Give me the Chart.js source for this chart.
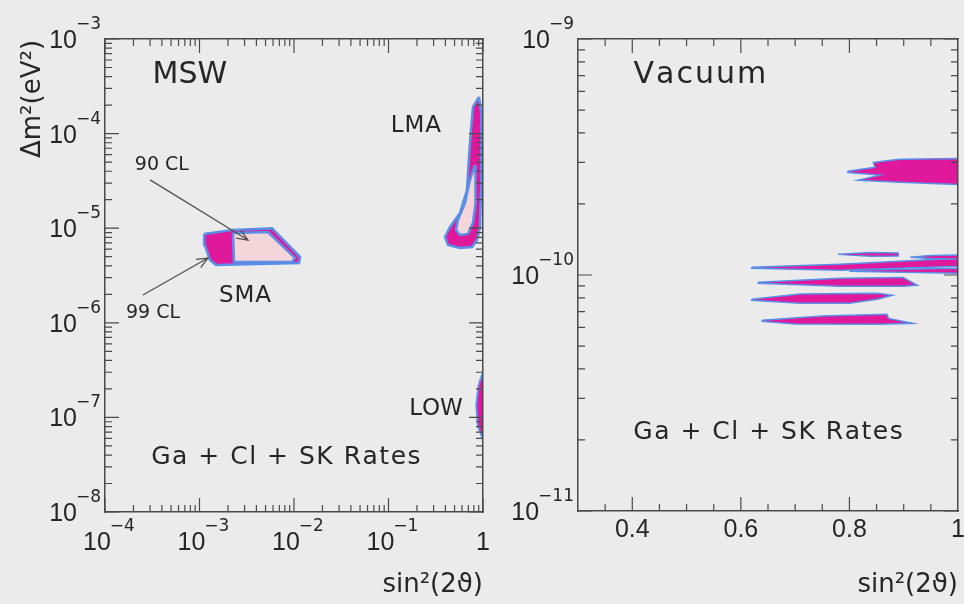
<!DOCTYPE html>
<html>
<head>
<meta charset="utf-8">
<script src="https://cdn.jsdelivr.net/npm/chart.js@4.4.1/dist/chart.umd.min.js"></script>
<style>
  html, body { margin: 0; padding: 0; background: #ebebeb; }
  #wrap { position: relative; width: 964px; height: 604px; overflow: hidden; }
  canvas { position: absolute; top: 0; }
  #msw { left: 0; width: 490px; height: 604px; }
  #vac { left: 490px; width: 474px; height: 604px; }
</style>
</head>
<body>
<div id="wrap">
  <canvas id="msw" width="490" height="604"></canvas>
  <canvas id="vac" width="474" height="604"></canvas>
</div>
<script>
// ---- MSW solutions: closed contours, [sin^2(2θ), Δm^2 in eV^2] ----
const SMA_99 = [[1.12e-3,8.7e-6],[2.26e-3,9.6e-6],[5.85e-3,1.0e-5],[1.16e-2,4.97e-6],[1.13e-2,4.29e-6],
                [1.50e-3,4.08e-6],[1.29e-3,4.61e-6],[1.14e-3,6.64e-6],[1.12e-3,8.7e-6]];
const SMA_90 = [[2.26e-3,8.9e-6],[5.31e-3,9.1e-6],[1.03e-2,4.84e-6],[9.5e-3,4.39e-6],[2.32e-3,4.39e-6],[2.26e-3,8.9e-6]];
const LMA_99 = [[0.907,2.44e-4],[0.784,1.91e-4],[0.746,1.09e-4],[0.711,5.66e-5],[0.677,2.53e-5],[0.571,1.45e-5],
                [0.448,1.03e-5],[0.396,8.07e-6],[0.427,6.64e-6],[0.571,6.17e-6],[0.765,6.33e-6],[0.864,7.5e-6],
                [0.930,1.03e-5],[0.96,3.24e-5],[0.96,1.65e-4],[0.907,2.44e-4]];
const LMA_90 = [[0.823,4.66e-5],[0.728,3.24e-5],[0.645,1.85e-5],[0.543,1.22e-5],[0.518,9.57e-6],[0.571,8.48e-6],
                [0.693,8.69e-6],[0.784,1.14e-5],[0.843,1.99e-5],[0.843,3.47e-5],[0.823,4.66e-5]];
const LOW_99 = [[1.0,3.0e-7],[0.90,2.2e-7],[0.85,1.35e-7],[0.88,8.3e-8],[1.0,5.8e-8],[1.0,3.0e-7]];

// ---- Vacuum solutions: thin islands, [sin^2(2θ), Δm^2 in eV^2] ----
const VAC_1 = [[0.797,2.75e-10],[0.847,2.86e-10],[0.844,3.0e-10],[0.893,3.09e-10],[1.0,3.12e-10],[1.0,2.42e-10],
               [0.893,2.47e-10],[0.816,2.52e-10],[0.856,2.65e-10],[0.797,2.72e-10],[0.797,2.75e-10]];
const VAC_2 = [[0.779,1.224e-10],[0.838,1.245e-10],[0.890,1.24e-10],[0.890,1.205e-10],[0.838,1.20e-10],[0.779,1.224e-10]];
const VAC_3 = [[0.912,1.19e-10],[0.95,1.21e-10],[1.0,1.215e-10],[1.0,1.17e-10],[0.95,1.175e-10],[0.912,1.19e-10]];
const VAC_4 = [[0.620,1.078e-10],[0.783,1.11e-10],[1.0,1.177e-10],[1.0,1.089e-10],[0.783,1.047e-10],[0.620,1.068e-10],[0.620,1.078e-10]];
const VAC_5 = [[0.801,1.047e-10],[1.0,1.068e-10],[1.0,1.017e-10],[0.801,1.036e-10],[0.801,1.047e-10]];
const VAC_6 = [[0.632,9.31e-11],[0.783,9.68e-11],[0.899,9.77e-11],[0.925,9.05e-11],[0.899,8.96e-11],[0.783,8.96e-11],[0.632,9.22e-11],[0.632,9.31e-11]];
const VAC_7 = [[0.620,7.89e-11],[0.709,8.30e-11],[0.851,8.36e-11],[0.879,8.20e-11],[0.851,7.9e-11],[0.80,7.59e-11],[0.709,7.59e-11],[0.620,7.82e-11],[0.620,7.89e-11]];
const VAC_8 = [[0.639,6.43e-11],[0.75,6.7e-11],[0.869,6.82e-11],[0.872,6.55e-11],[0.917,6.24e-11],[0.85,6.18e-11],[0.70,6.2e-11],[0.639,6.36e-11],[0.639,6.43e-11]];

// ---- axes ----
const MSW_X_TICKS = [1e-4, 1e-3, 1e-2, 1e-1, 1];
const MSW_X_LABELS = ['10^-4', '10^-3', '10^-2', '10^-1', '1'];
const MSW_Y_TICKS = [1e-8, 1e-7, 1e-6, 1e-5, 1e-4, 1e-3];
const MSW_Y_LABELS = ['10^-8', '10^-7', '10^-6', '10^-5', '10^-4', '10^-3'];
const VAC_X_TICKS = [0.4, 0.6, 0.8, 1.0];
const VAC_X_LABELS = ['0.4', '0.6', '0.8', '1'];
const VAC_Y_TICKS = [1e-11, 1e-10, 1e-9];
const VAC_Y_LABELS = ['10^-11', '10^-10', '10^-9'];

const X_TITLE = 'sin\u00b2(2\u03d1)';
const Y_TITLE = '\u0394m\u00b2(eV\u00b2)';

// ---- styling ----
const MAGENTA = '#e0189c';
const PALE = '#f3d5da';
const BLUE = '#5b8ee6';
const AXIS = '#4a4a4a';
const INK = '#262626';
const WORD_FONT = '"DejaVu Sans", sans-serif';
const NUM_FONT = '"Liberation Sans", Arial, sans-serif';

// annotations placed in data coordinates
const MSW_NOTES = [
  { t: 'MSW', x: 7.9e-4, y: 4.16e-4, size: 30 },
  { t: 'LMA', x: 0.195, y: 1.2e-4, size: 23, sp: 1 },
  { t: '90 CL', x: 4.0e-4, y: 4.65e-5, size: 19 },
  { t: 'SMA', x: 3.03e-3, y: 1.92e-6, size: 23, sp: 1 },
  { t: '99 CL', x: 3.22e-4, y: 1.27e-6, size: 19 },
  { t: 'LOW', x: 0.318, y: 1.23e-7, size: 23 },
  { t: 'Ga + Cl + SK Rates', x: 8.2e-3, y: 3.8e-8, size: 25, sp: 1.5 }
];
const MSW_ARROWS = [
  { from: [3.0e-4, 3.24e-5], to: [3.26e-3, 7.5e-6] },
  { from: [2.52e-4, 1.97e-6], to: [1.23e-3, 4.84e-6] }
];
const VAC_NOTES = [
  { t: 'Vacuum', x: 0.5245, y: 7.04e-10, size: 30, sp: 2 },
  { t: 'Ga + Cl + SK Rates', x: 0.650, y: 2.16e-11, size: 25, sp: 1.5 }
];

// tick-mark positions: long marks at decades, short marks at 2..9 within each decade
function logMarks(decades) {
  const out = [];
  decades.forEach((d, i) => {
    out.push({ v: d, len: 14 });
    if (i < decades.length - 1) for (let k = 2; k <= 9; k++) out.push({ v: k * d, len: 7 });
  });
  return out;
}
function linMarks(from, to, step, majors) {
  const out = [];
  for (let i = Math.round(from / step); i <= Math.round(to / step); i++) {
    const v = +(i * step).toFixed(4);
    out.push({ v, len: majors.some(m => Math.abs(m - v) < 1e-6) ? 14 : 7 });
  }
  return out;
}

// value lying a given fraction of the way along an axis range
function along(r, frac) {
  return r.log ? r.min * Math.pow(r.max / r.min, frac) : r.min + (r.max - r.min) * frac;
}

// inward tick marks on all four sides, as gap-separated line segments in data space
function frameMarkSets(xMarks, yMarks, xr, yr, plotW, plotH) {
  const xs = [], ys = [];
  for (const m of xMarks) {
    const f = m.len / plotH;
    xs.push({ x: m.v, y: yr.min }, { x: m.v, y: along(yr, f) }, { x: m.v, y: null });
    xs.push({ x: m.v, y: yr.max }, { x: m.v, y: along(yr, 1 - f) }, { x: m.v, y: null });
  }
  for (const m of yMarks) {
    const f = m.len / plotW;
    ys.push({ x: xr.min, y: m.v }, { x: along(xr, f), y: m.v }, { x: xr.min, y: null });
    ys.push({ x: xr.max, y: m.v }, { x: along(xr, 1 - f), y: m.v }, { x: xr.max, y: null });
  }
  const style = { borderColor: AXIS, borderWidth: 1.2, pointRadius: 0, fill: false,
                  spanGaps: false, order: -1, clip: 2 };
  return [Object.assign({ data: xs }, style), Object.assign({ data: ys }, style)];
}

// per-panel text settings, looked up by canvas id
const PANELS = {
  msw: { xTicks: MSW_X_TICKS, xLabels: MSW_X_LABELS, yTicks: MSW_Y_TICKS, yLabels: MSW_Y_LABELS,
         xBase: 38, notes: MSW_NOTES, arrows: MSW_ARROWS, yTitle: Y_TITLE },
  vac: { xTicks: VAC_X_TICKS, xLabels: VAC_X_LABELS, yTicks: VAC_Y_TICKS, yLabels: VAC_Y_LABELS,
         xBase: 26, notes: VAC_NOTES, arrows: [], yTitle: null }
};

function powParts(label) {
  const i = label.indexOf('^');
  if (i < 0) return [label, ''];
  return [label.slice(0, i), label.slice(i + 1).replace('-', '\u2212')];
}
function drawPow(ctx, label, x, y, align) {
  const [b, e] = powParts(label);
  ctx.font = '25px ' + NUM_FONT;
  const wb = ctx.measureText(b).width;
  ctx.font = '17px ' + WORD_FONT;
  const we = e ? ctx.measureText(e).width : 0;
  const gap = e ? -1 : 0;
  const total = wb + gap + we;
  const x0 = align === 'right' ? x - total : (align === 'center' ? x - total / 2 : x);
  ctx.textAlign = 'left';
  ctx.textBaseline = 'alphabetic';
  ctx.font = '25px ' + NUM_FONT;
  ctx.fillText(b, x0, y);
  if (e) {
    ctx.font = '17px ' + WORD_FONT;
    ctx.fillText(e, x0 + wb + gap, y - 19);
  }
}
// centred text with extra spacing between letters
function spacedText(ctx, text, cx, cy, sp) {
  const chars = Array.from(text);
  const widths = chars.map(c => ctx.measureText(c).width);
  const total = widths.reduce((s, w) => s + w, 0) + sp * (chars.length - 1);
  let x = cx - total / 2;
  ctx.textAlign = 'left';
  chars.forEach((c, i) => { ctx.fillText(c, x, cy); x += widths[i] + sp; });
}

// tick labels, annotations, arrows and axis titles
const textPlugin = {
  id: 'panelText',
  afterDraw(chart) {
    const o = PANELS[chart.canvas.id];
    const ctx = chart.ctx, a = chart.chartArea;
    const xs = chart.scales.x, ys = chart.scales.y;
    ctx.save();
    ctx.fillStyle = INK;
    o.xTicks.forEach((v, i) => {
      const lab = o.xLabels[i];
      const shift = lab.includes('^') ? 4 : 0;
      drawPow(ctx, lab, xs.getPixelForValue(v) + shift, a.bottom + o.xBase, 'center');
    });
    o.yTicks.forEach((v, i) => {
      drawPow(ctx, o.yLabels[i], a.left - 4, ys.getPixelForValue(v) + 9, 'right');
    });
    for (const n of o.notes) {
      ctx.font = n.size + 'px ' + WORD_FONT;
      ctx.textBaseline = 'middle';
      spacedText(ctx, n.t, xs.getPixelForValue(n.x), ys.getPixelForValue(n.y), n.sp || 0);
    }
    ctx.strokeStyle = '#505050';
    ctx.lineWidth = 1.3;
    for (const ar of o.arrows) {
      const x1 = xs.getPixelForValue(ar.from[0]), y1 = ys.getPixelForValue(ar.from[1]);
      const x2 = xs.getPixelForValue(ar.to[0]), y2 = ys.getPixelForValue(ar.to[1]);
      ctx.beginPath(); ctx.moveTo(x1, y1); ctx.lineTo(x2, y2); ctx.stroke();
      const ang = Math.atan2(y2 - y1, x2 - x1), L = 12, w = 0.4;
      ctx.beginPath();
      ctx.moveTo(x2 - L * Math.cos(ang - w), y2 - L * Math.sin(ang - w));
      ctx.lineTo(x2, y2);
      ctx.lineTo(x2 - L * Math.cos(ang + w), y2 - L * Math.sin(ang + w));
      ctx.stroke();
    }
    ctx.font = '26px ' + WORD_FONT;
    ctx.textAlign = 'right';
    ctx.textBaseline = 'alphabetic';
    ctx.fillText(X_TITLE, a.right, 592);
    if (o.yTitle) {
      ctx.save();
      ctx.translate(40, 158);
      ctx.rotate(-Math.PI / 2);
      ctx.textAlign = 'left';
      ctx.fillText(o.yTitle, 0, 0);
      ctx.restore();
    }
    ctx.restore();
  }
};

function region(points, inner, width) {
  return {
    data: points.map(([x, y]) => ({ x, y })),
    fill: 'shape',
    backgroundColor: inner ? PALE : MAGENTA,
    borderColor: BLUE,
    borderWidth: width,
    pointRadius: 0,
    order: inner ? 0 : 1
  };
}

function axis(type, min, max, position) {
  return {
    type, min, max, position, display: true,
    ticks: { display: false },
    grid: { display: false, drawTicks: false },
    border: { display: true, color: AXIS, width: 1.5, z: 1 }
  };
}

function makeChart(id, datasets, scales, padding) {
  return new Chart(document.getElementById(id), {
    type: 'line',
    data: { datasets },
    options: {
      responsive: false,
      animation: false,
      devicePixelRatio: 1,
      layout: { padding },
      plugins: { legend: { display: false }, tooltip: { enabled: false } },
      scales
    },
    plugins: [textPlugin]
  });
}

const MSW_XR = { min: 1e-4, max: 1, log: true };
const MSW_YR = { min: 1e-8, max: 1e-3, log: true };
const VAC_XR = { min: 0.3, max: 1, log: false };
const VAC_YR = { min: 1e-11, max: 1e-9, log: true };

makeChart('msw',
  [region(SMA_90, true, 2.5), region(LMA_90, true, 2.5),
   region(SMA_99, false, 2.5), region(LMA_99, false, 2.5), region(LOW_99, false, 2)]
    .concat(frameMarkSets(logMarks(MSW_X_TICKS), logMarks(MSW_Y_TICKS), MSW_XR, MSW_YR, 378, 473)),
  {
    x: axis('logarithmic', MSW_XR.min, MSW_XR.max, 'bottom'),
    y: axis('logarithmic', MSW_YR.min, MSW_YR.max, 'left'),
    xTop: axis('logarithmic', MSW_XR.min, MSW_XR.max, 'top'),
    yRight: axis('logarithmic', MSW_YR.min, MSW_YR.max, 'right')
  },
  { left: 105, top: 39, right: 7, bottom: 92 });

makeChart('vac',
  [VAC_1, VAC_2, VAC_3, VAC_4, VAC_5, VAC_6, VAC_7, VAC_8].map(p => region(p, false, 1.5))
    .concat(frameMarkSets(linMarks(0.35, 0.95, 0.05, [0.4, 0.6, 0.8]), logMarks(VAC_Y_TICKS), VAC_XR, VAC_YR, 380, 472)),
  {
    x: axis('linear', VAC_XR.min, VAC_XR.max, 'bottom'),
    y: axis('logarithmic', VAC_YR.min, VAC_YR.max, 'left'),
    xTop: axis('linear', VAC_XR.min, VAC_XR.max, 'top'),
    yRight: axis('logarithmic', VAC_YR.min, VAC_YR.max, 'right')
  },
  { left: 88, top: 39, right: 6, bottom: 93 });
</script>
</body>
</html>
